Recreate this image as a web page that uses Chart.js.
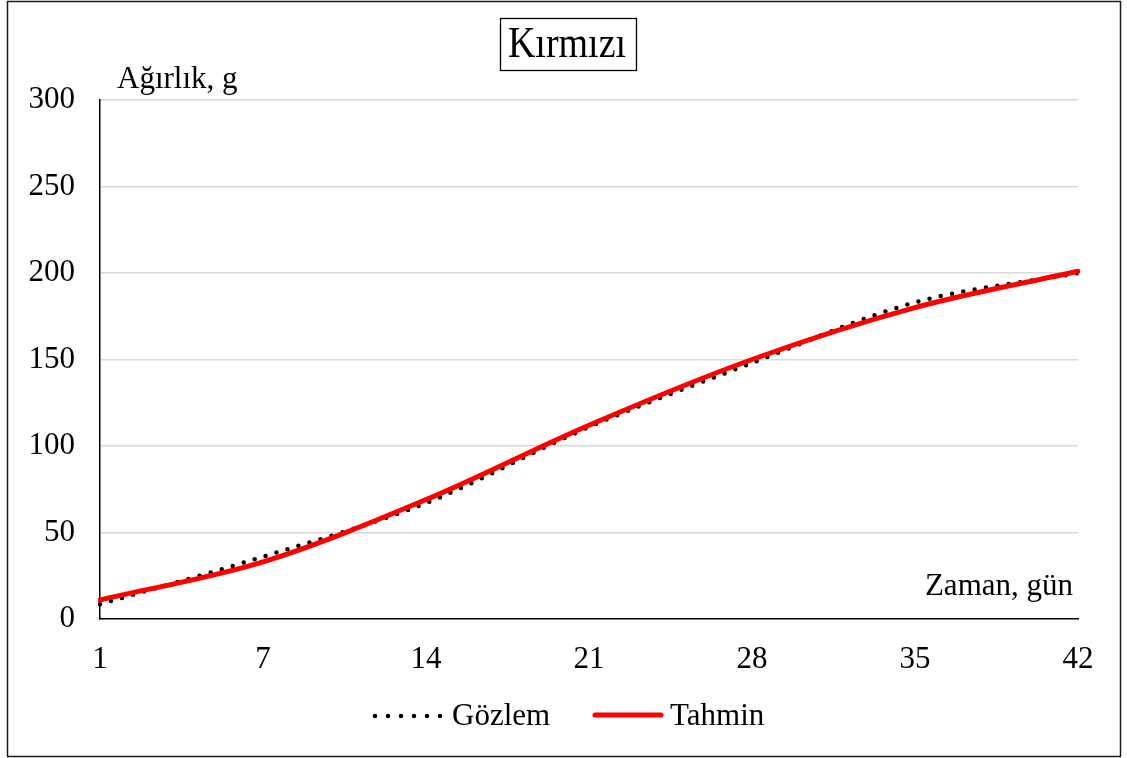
<!DOCTYPE html>
<html>
<head>
<meta charset="utf-8">
<script src="https://cdn.jsdelivr.net/npm/chart.js@4"></script>
<style>
  html, body { margin: 0; padding: 0; background: #fff; }
  canvas { display: block; }
</style>
</head>
<body>
<canvas id="chart" width="1127" height="758"></canvas>
<script>
const days = ['1', '7', '14', '21', '28', '35', '42'];
const gozlem = [8.5, 36, 67, 111, 148, 183, 200];
const tahmin = [11, 33, 69, 112, 150, 180, 201];
const yTicks = [0, 50, 100, 150, 200, 250, 300];

const SERIF = '"Liberation Serif", "Times New Roman", serif';

// title box, axis titles, legend and outer frame
const decor = {
  id: 'decor',
  afterDraw(chart) {
    const ctx = chart.ctx;
    ctx.save();
    ctx.strokeStyle = '#1a1a1a';
    ctx.lineWidth = 1.5;
    ctx.strokeRect(7.5, 1.5, 1113, 755);

    ctx.fillStyle = '#000';
    ctx.strokeStyle = '#000';
    ctx.lineWidth = 1.3;
    ctx.strokeRect(500.5, 18.5, 136, 52);
    ctx.save();
    ctx.translate(567, 46);
    ctx.scale(1, 1.15);
    ctx.font = '38px ' + SERIF;
    ctx.textAlign = 'center';
    ctx.textBaseline = 'middle';
    ctx.fillText('Kırmızı', 0, 0);
    ctx.restore();

    ctx.font = '31px ' + SERIF;
    ctx.textBaseline = 'alphabetic';
    ctx.textAlign = 'left';
    ctx.fillText('Ağırlık, g', 117, 88);
    ctx.textAlign = 'right';
    ctx.fillText('Zaman, gün', 1073, 595);

    // legend
    ctx.textAlign = 'left';
    ctx.lineCap = 'round';
    ctx.strokeStyle = '#000';
    ctx.lineWidth = 4.5;
    ctx.setLineDash([0, 13]);
    ctx.beginPath();
    ctx.moveTo(375, 716);
    ctx.lineTo(441, 716);
    ctx.stroke();
    ctx.setLineDash([]);
    ctx.fillText('Gözlem', 452, 725);

    ctx.strokeStyle = '#ff0000';
    ctx.lineWidth = 5;
    ctx.beginPath();
    ctx.moveTo(595, 715);
    ctx.lineTo(661, 715);
    ctx.stroke();
    ctx.fillText('Tahmin', 670, 725);
    ctx.restore();
  }
};

new Chart(document.getElementById('chart'), {
  type: 'line',
  data: {
    labels: days,
    datasets: [
      {
        label: 'Gözlem',
        data: gozlem,
        borderColor: '#000',
        borderWidth: 4.5,
        borderDash: [0, 11.5],
        borderCapStyle: 'round',
        pointRadius: 0,
        tension: 0.33,
        fill: false,
        order: 1
      },
      {
        label: 'Tahmin',
        data: tahmin,
        borderColor: '#ff0000',
        borderWidth: 5,
        borderCapStyle: 'round',
        pointRadius: 0,
        tension: 0.33,
        fill: false,
        order: 0
      }
    ]
  },
  options: {
    responsive: false,
    animation: false,
    layout: { padding: { left: 0, right: 49, top: 100, bottom: 0 } },
    plugins: {
      legend: { display: false },
      title: { display: false },
      tooltip: { enabled: false }
    },
    scales: {
      x: {
        type: 'category',
        offset: false,
        grid: { display: false, drawTicks: false },
        border: { display: true, color: '#000', width: 1.5 },
        ticks: {
          color: '#000',
          font: { family: SERIF, size: 31 },
          padding: 22,
          maxRotation: 0,
          autoSkip: false
        },
        afterFit(scale) { scale.height = 139; }
      },
      y: {
        min: 0,
        max: 300,
        afterBuildTicks(scale) { scale.ticks = yTicks.map(v => ({ value: v })); },
        grid: {
          color: ctx => ctx.tick && ctx.tick.value === 0 ? 'rgba(0,0,0,0)' : '#d9d9d9',
          lineWidth: 1.5,
          drawTicks: false
        },
        border: { display: true, color: '#000', width: 1.5 },
        ticks: {
          color: '#000',
          font: { family: SERIF, size: 31 },
          padding: 25
        },
        afterFit(scale) { scale.width = 100; }
      }
    }
  },
  plugins: [decor]
});
</script>
</body>
</html>
